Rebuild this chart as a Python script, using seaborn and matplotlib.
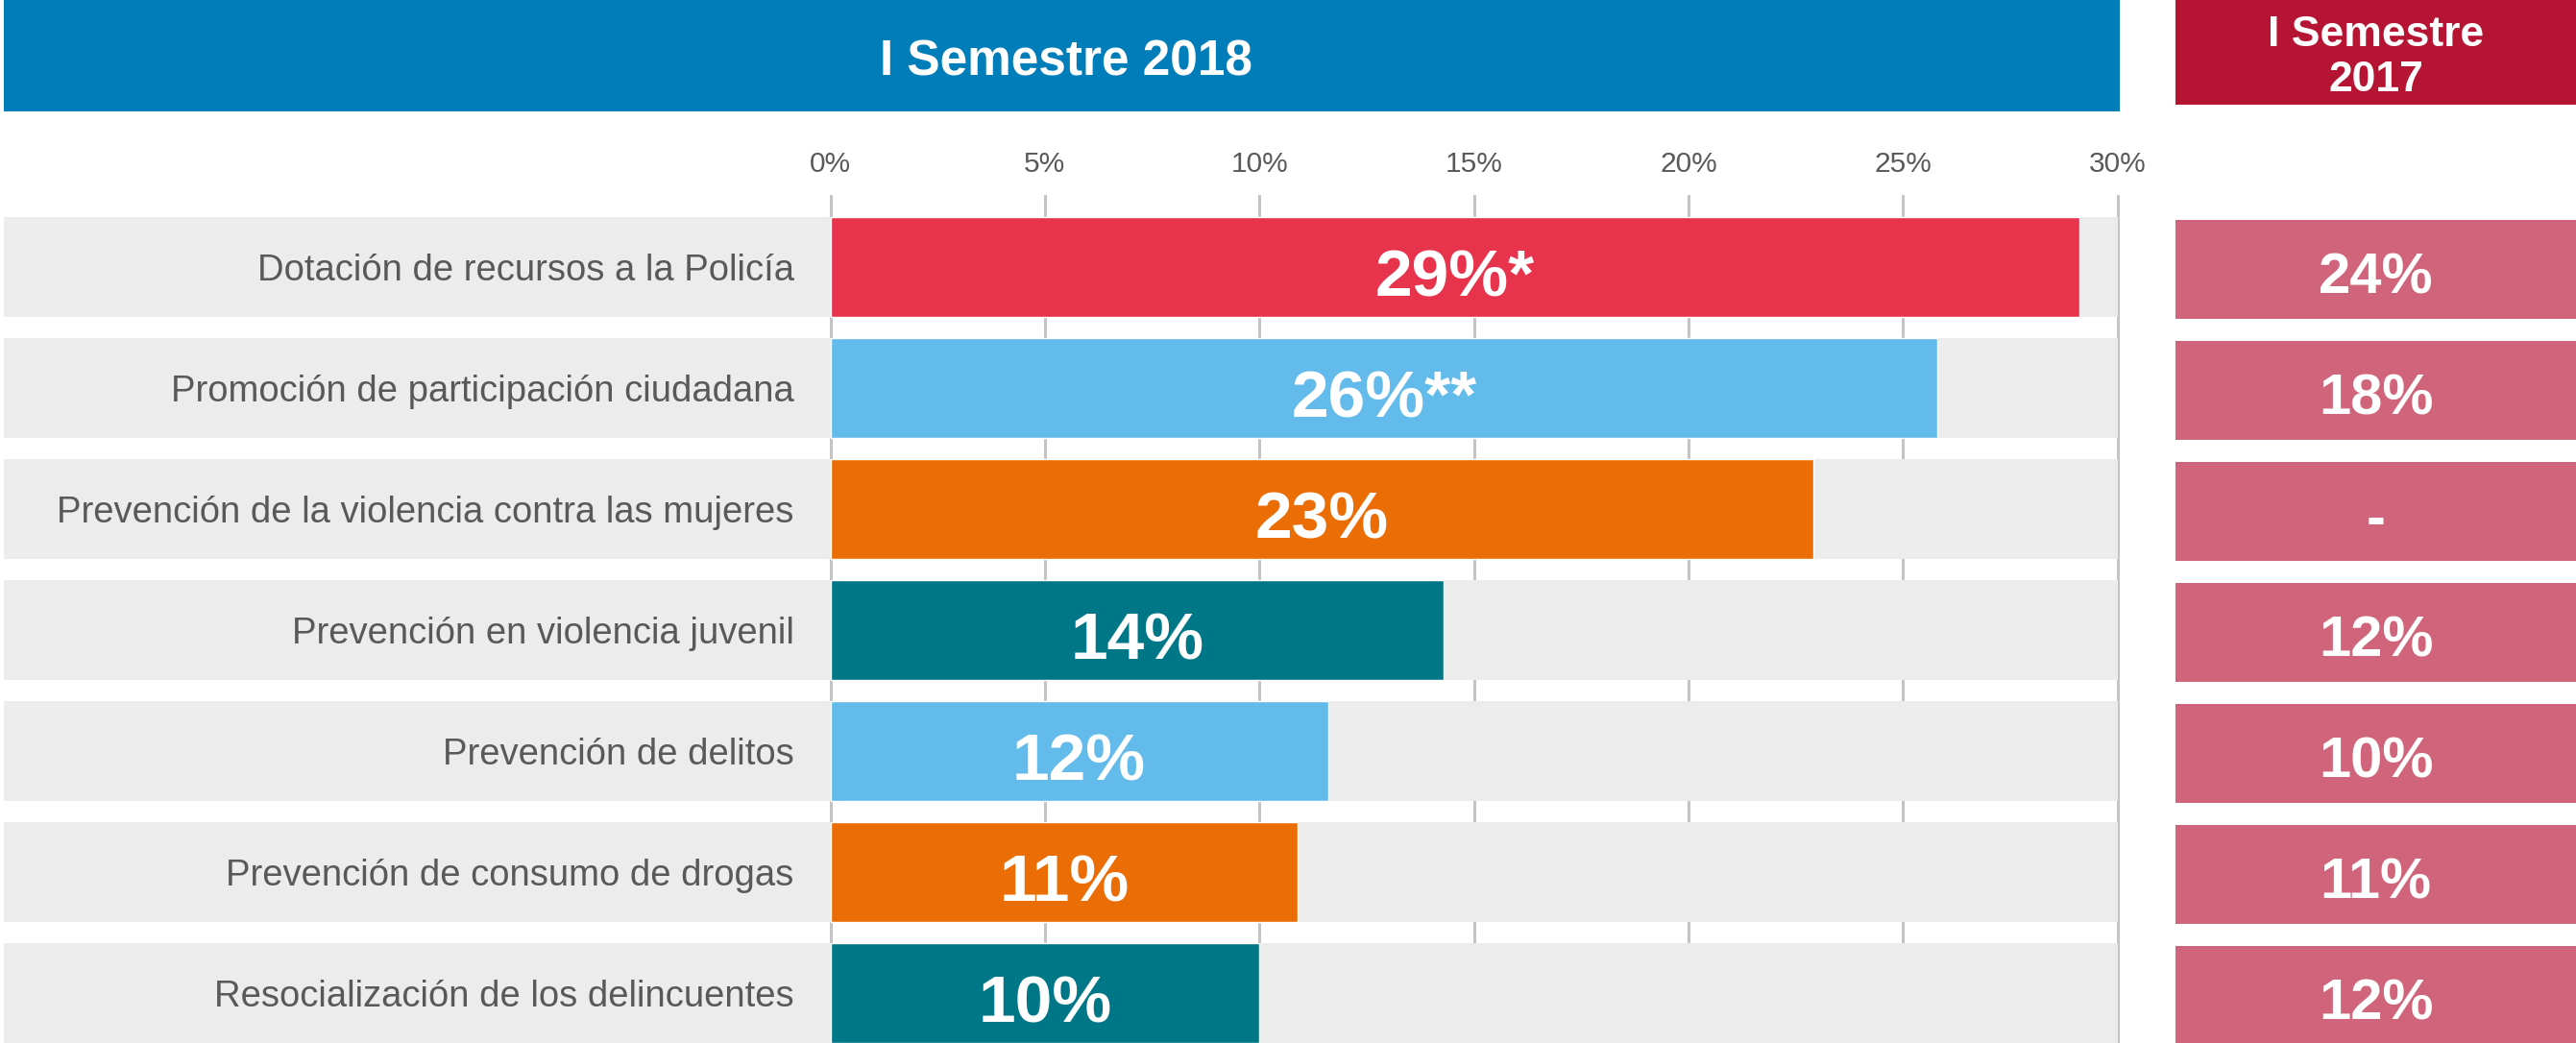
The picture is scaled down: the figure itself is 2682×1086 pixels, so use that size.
import matplotlib
matplotlib.use('Agg')
import matplotlib.pyplot as plt
import seaborn as sns

# Data
categories = [
    'Dotación de recursos a la Policía',
    'Promoción de participación ciudadana',
    'Prevención de la violencia contra las mujeres',
    'Prevención en violencia juvenil',
    'Prevención de delitos',
    'Prevención de consumo de drogas',
    'Resocialización de los delincuentes',
]
values_2018 = [29.1, 25.8, 22.9, 14.3, 11.6, 10.9, 10.0]
labels_2018 = ['29%*', '26%**', '23%', '14%', '12%', '11%', '10%']
values_2017 = [24, 18, None, 12, 10, 11, 12]
bar_colors = ['#E8334D', '#62BBEA', '#EB6D05', '#007787', '#62BBEA', '#EB6D05', '#007787']
xticks = [0, 5, 10, 15, 20, 25, 30]

sns.set_theme(style='white')
plt.rcParams['font.family'] = ['Liberation Sans', 'DejaVu Sans']

W, H = 2682, 1086
fig = plt.figure(figsize=(W / 100, H / 100), dpi=100)

def px_axes(x0, y0, x1, y1):
    return fig.add_axes([x0 / W, 1 - y1 / H, (x1 - x0) / W, (y1 - y0) / H])

# Main chart
ax = px_axes(4, 203, 2207, 1086)
sns.barplot(x=values_2018, y=categories, hue=categories, palette=bar_colors,
            legend=False, orient='h', width=0.825, saturation=1, ax=ax, zorder=2)
xmin = -(865 - 4) / 44.7
ax.set_xlim(xmin, 30.05)
ax.set_ylim(6.413, -0.595)
band = (30 - xmin) / (30.05 - xmin)
for i in range(len(categories)):
    ax.axhspan(i - 0.4125, i + 0.4125, xmin=0, xmax=band, color='#ECECEC', zorder=0.6, lw=0)
ax.set_axisbelow(True)
ax.grid(axis='x', color='#C4C4C4', lw=2.2)
ax.grid(axis='y', visible=False)
ax.xaxis.tick_top()
ax.set_xticks(xticks)
ax.set_xticklabels([f'{t}%' for t in xticks], fontsize=21.5, color='#595959')
ax.tick_params(axis='x', length=0, pad=13)
ax.set_yticks([])
ax.set_xlabel('')
ax.set_ylabel('')
for s in ax.spines.values():
    s.set_visible(False)

for i, (cat, v, lab) in enumerate(zip(categories, values_2018, labels_2018)):
    ax.text(-0.85, i + 0.03, cat, ha='right', va='center', fontsize=27.5, color='#595959')
    ax.text(v / 2, i + 0.04, lab, ha='center', va='center_baseline', fontsize=50,
            color='white', fontweight='bold', zorder=3)

# Right column (I Semestre 2017)
ax2 = px_axes(2265, 203, 2682, 1086)
ax2.set_xlim(0, 1)
ax2.set_ylim(ax.get_ylim())
for i, v in enumerate(values_2017):
    ax2.axhspan(i - 0.41 + 0.02, i + 0.41 + 0.02, color='#D0647A', lw=0)
    txt = '-' if v is None else f'{v}%'
    ax2.text(0.5, i + 0.05, txt, ha='center', va='center_baseline', fontsize=43,
             color='white', fontweight='bold')
ax2.axis('off')

# Headers
hdr1 = px_axes(4, 0, 2207, 116)
hdr1.set_facecolor('#017DB9')
hdr1.text(0.502, 0.44, 'I Semestre 2018', ha='center', va='center', fontsize=37,
          color='white', fontweight='bold', transform=hdr1.transAxes)
hdr2 = px_axes(2265, 0, 2682, 109)
hdr2.set_facecolor('#B51432')
hdr2.text(0.5, 0.45, 'I Semestre\n2017', ha='center', va='center', fontsize=32,
          color='white', fontweight='bold', linespacing=1.2, transform=hdr2.transAxes)
for h in (hdr1, hdr2):
    h.set_xticks([])
    h.set_yticks([])
    for s in h.spines.values():
        s.set_visible(False)

fig.savefig('out.png', dpi=100, facecolor='white')
